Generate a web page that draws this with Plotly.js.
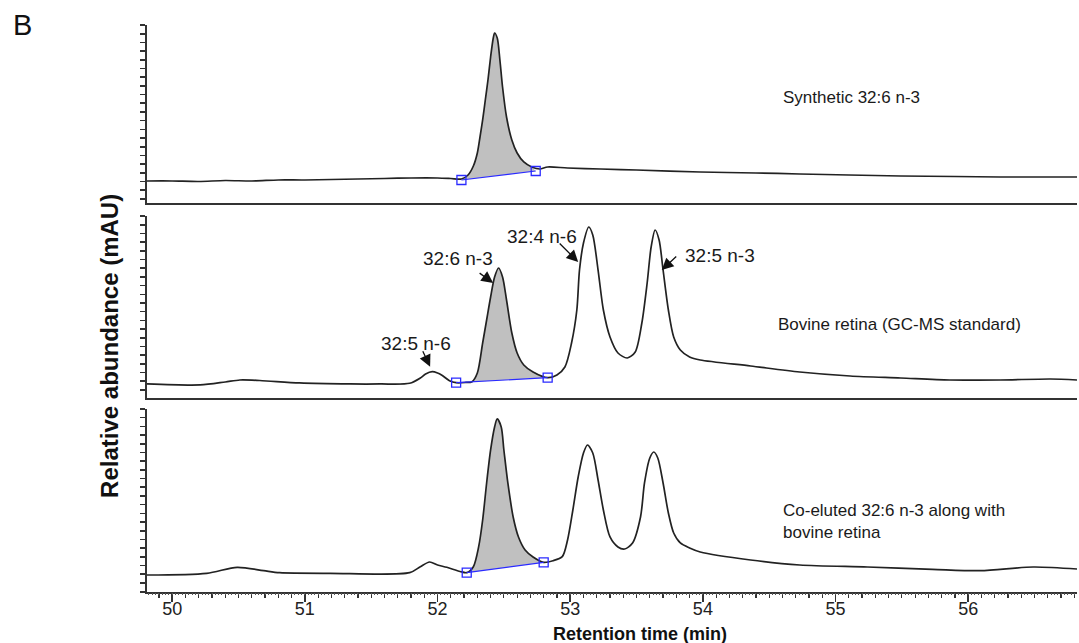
<!DOCTYPE html>
<html><head><meta charset="utf-8">
<script src="https://cdn.plot.ly/plotly-3.0.1.min.js"></script>
<style>html,body{margin:0;padding:0;background:#fff}#chart{width:1079px;height:643px}</style>
</head><body><div id="chart"></div>
<script>
// Panel 1: Synthetic 32:6 n-3 (retention time, min / abundance, arbitrary units)
const time1 = [49.81,50.00,50.20,50.40,50.60,50.80,51.00,51.20,51.40,51.60,51.80,52.00,52.10,52.18,52.23,52.27,52.30,52.32,52.34,52.36,52.38,52.40,52.42,52.43,52.45,52.47,52.49,52.52,52.56,52.60,52.65,52.71,52.77,52.83,52.98,53.23,53.50,53.98,54.40,54.73,55.10,55.49,55.90,56.24,56.60,56.82];
const abund1 = [22,22,21.5,22.5,22,23,23,23.5,24,24.5,25,25,24.5,24,28,37,50,66,83,103,123,146,165,170,165,143,116,86,63,50,41,36,34,36,35,34,33,31,30,29,28,27,26.5,26,26,26];
// Panel 2: Bovine retina (GC-MS standard)
const time2 = [49.81,50.21,50.40,50.51,50.66,50.96,51.34,51.57,51.79,51.87,51.91,51.96,52.00,52.03,52.09,52.14,52.21,52.26,52.30,52.34,52.37,52.40,52.43,52.46,52.49,52.52,52.56,52.60,52.65,52.72,52.83,52.90,52.96,53.01,53.05,53.07,53.10,53.14,53.17,53.21,53.25,53.30,53.36,53.43,53.49,53.54,53.58,53.61,53.64,53.67,53.70,53.74,53.78,53.83,53.90,53.98,54.36,54.73,55.11,55.49,55.86,56.24,56.62,56.82];
const abund2 = [14,13,16,18,17.5,15,14,14,14.7,20,24,26.3,25,23,17.3,15.3,15.5,16.3,25,55,78,101,121,130,121,98,65,45,33,26,20.3,23,31,55,88,128,155,171,163,128,88,61,45,40,46,75,115,151,168,158,128,88,61,48,41,38,32,26,22,20,18,18,19,18];
// Panel 3: Co-eluted 32:6 n-3 along with bovine retina
const time3 = [49.81,50.26,50.49,50.69,50.81,51.19,51.79,51.87,51.94,52.00,52.07,52.17,52.22,52.27,52.31,52.34,52.37,52.40,52.43,52.45,52.48,52.50,52.53,52.57,52.61,52.66,52.72,52.80,52.87,52.94,52.98,53.02,53.06,53.10,53.13,53.17,53.21,53.25,53.30,53.36,53.41,53.47,53.53,53.56,53.60,53.63,53.66,53.70,53.74,53.78,53.83,53.90,53.98,54.36,54.73,55.24,55.73,56.09,56.49,56.82];
const abund3 = [17,18.7,24.7,21.3,19.3,18.7,19.3,25.3,30,27,24.7,20.5,19.3,25.3,45.3,72,109,142,165,173,165,142,109,75,55,42,35,29.7,31.3,35.3,52,82,115,139,147,139,112,82,55,45,43,49,75,109,134,140,134,109,79,59,49,44,40,32,27,25,22.7,21.3,25,23];

// Integration baseline markers (start / end) per panel
const intTime1 = [52.18, 52.74], intAbund1 = [23, 32];
const intTime2 = [52.14, 52.83], intAbund2 = [15.3, 20.3];
const intTime3 = [52.22, 52.80], intAbund3 = [19.3, 29.7];

const panelLabels = ["Synthetic 32:6 n-3", "Bovine retina (GC-MS standard)", "Co-eluted 32:6 n-3 along with<br>bovine retina"];
const peakNames = ["32:5 n-6", "32:6 n-3", "32:4 n-6", "32:5 n-3"];
const peakTimes = [51.944, 52.419, 53.06, 53.69];
const peakAbund = [31.3, 115, 136, 128];
const peakLabelTimes = [51.839, 52.155, 52.788, 54.13];
const peakLabelAbund = [54, 140, 162, 143];
const xTickVals = [50, 51, 52, 53, 54, 55, 56];

const FONT = "Liberation Sans, Arial, Helvetica, sans-serif";
const XR = [49.81, 56.82];
const yRanges = [[0,178],[0,182],[0,183]];
const domains = [[0.6861,1],[0.3422,0.6631],[0,0.3228]];

const panels = [
  {t: time1, a: abund1, it: intTime1, ia: intAbund1},
  {t: time2, a: abund2, it: intTime2, ia: intAbund2},
  {t: time3, a: abund3, it: intTime3, ia: intAbund3}
];

const traces = [];
panels.forEach((p, i) => {
  const xa = i === 0 ? 'x' : 'x' + (i+1);
  const ya = i === 0 ? 'y' : 'y' + (i+1);
  const fx = [p.it[0]], fy = [p.ia[0]];
  p.t.forEach((t, k) => { if (t > p.it[0] && t < p.it[1]) { fx.push(t); fy.push(p.a[k]); } });
  fx.push(p.it[1]); fy.push(p.ia[1]);
  traces.push({x: fx, y: fy, xaxis: xa, yaxis: ya, mode: 'lines', fill: 'toself',
    fillcolor: '#c0c0c0', line: {width: 0, shape: 'spline', smoothing: 0.8}, hoverinfo: 'skip', showlegend: false});
  traces.push({x: p.t, y: p.a, xaxis: xa, yaxis: ya, mode: 'lines',
    line: {color: '#222', width: 1.7, shape: 'spline', smoothing: 0.8}, showlegend: false});
  traces.push({x: p.it, y: p.ia, xaxis: xa, yaxis: ya, mode: 'lines+markers',
    line: {color: '#2a2aff', width: 1.2},
    marker: {symbol: 'square-open', size: 9, color: '#2a2aff', line: {width: 1.3, color: '#2a2aff'}},
    showlegend: false});
});
// empty trace so the fine-tick overlay axis is drawn
traces.push({x: [], y: [], xaxis: 'x4', yaxis: 'y3', mode: 'lines', showlegend: false});

const layout = {
  width: 1079, height: 643,
  margin: {l: 147, r: 2, t: 25, b: 51},
  paper_bgcolor: '#fff', plot_bgcolor: '#fff',
  font: {family: FONT, color: '#1a1a1a', size: 18},
  showlegend: false,
  annotations: []
};

for (let i = 0; i < 3; i++) {
  const xk = i === 0 ? 'xaxis' : 'xaxis' + (i+1);
  const yk = i === 0 ? 'yaxis' : 'yaxis' + (i+1);
  const ya = i === 0 ? 'y' : 'y' + (i+1);
  layout[yk] = {domain: domains[i], range: yRanges[i], anchor: i === 0 ? 'x' : 'x' + (i+1),
    showline: true, linecolor: '#333', linewidth: 1.6, mirror: false,
    ticks: 'outside', ticklen: 5, tickwidth: 1.6, tickcolor: '#333',
    tick0: yRanges[i][1], dtick: 8.7, showticklabels: false, showgrid: false, zeroline: false, fixedrange: true};
  layout[xk] = {range: XR, anchor: ya, showline: true, linecolor: '#333', linewidth: 1.6,
    showgrid: false, zeroline: false, ticks: '', showticklabels: false, fixedrange: true};
  if (i > 0) layout[xk].matches = 'x';
}
Object.assign(layout.xaxis3, {
  ticks: 'outside', ticklen: 8, tickwidth: 1.6, tickcolor: '#333',
  tickmode: 'array', tickvals: xTickVals, ticktext: xTickVals.map(String),
  showticklabels: true, tickfont: {size: 18, family: FONT, color: '#222'}, ticklabelstandoff: -8,
  minor: {ticks: 'outside', dtick: 0.1, tick0: 0, ticklen: 4, tickwidth: 1.2, tickcolor: '#333', showgrid: false}
});
layout.xaxis4 = {overlaying: 'x3', anchor: 'y3', range: XR, showline: false, showgrid: false, zeroline: false,
  ticks: 'outside', ticklen: 2, tickwidth: 1, tickcolor: '#555', tick0: 0, dtick: 0.025, showticklabels: false, fixedrange: true};

const labelPos = [[54.59, 105], [54.55, 73], [54.59, 70]];
panelLabels.forEach((txt, i) => {
  layout.annotations.push({text: txt, xref: i === 0 ? 'x' : 'x' + (i+1), yref: i === 0 ? 'y' : 'y' + (i+1),
    x: labelPos[i][0], y: labelPos[i][1], xanchor: 'left', yanchor: 'middle', align: 'left', showarrow: false,
    font: {size: 17, family: FONT, color: '#1a1a1a'}});
});
const arrowOff = [[-8,-17],[-15,-11],[-20,-20],[16,-15]];
peakNames.forEach((nm, k) => {
  layout.annotations.push({text: '', xref: 'x2', yref: 'y2', x: peakTimes[k], y: peakAbund[k],
    showarrow: true, arrowhead: 2, arrowsize: 1.8, arrowwidth: 1.3, arrowcolor: '#111',
    ax: arrowOff[k][0], ay: arrowOff[k][1], standoff: 0, startstandoff: 0});
  layout.annotations.push({text: nm, xref: 'x2', yref: 'y2', x: peakLabelTimes[k], y: peakLabelAbund[k],
    showarrow: false, xanchor: 'center', yanchor: 'middle', font: {size: 19, family: FONT, color: '#1a1a1a'}});
});
layout.annotations.push({text: '<b>Retention time (min)</b>', xref: 'paper', yref: 'paper', x: 0.530, y: -0.074,
  xanchor: 'center', yanchor: 'middle', showarrow: false, font: {size: 18, family: FONT, color: '#111'}});
layout.annotations.push({text: '<b>Relative abundance (mAU)</b>', xref: 'paper', yref: 'paper', x: -0.0398, y: 0.434,
  xanchor: 'center', yanchor: 'middle', textangle: -90, showarrow: false, font: {size: 24, family: FONT, color: '#111'}});
layout.annotations.push({text: 'B', xref: 'paper', yref: 'paper', x: -0.134, y: 1.0,
  xanchor: 'center', yanchor: 'middle', showarrow: false, font: {size: 29, family: FONT, color: '#111'}});

Plotly.newPlot('chart', traces, layout, {staticPlot: true, displayModeBar: false});
</script></body></html>
